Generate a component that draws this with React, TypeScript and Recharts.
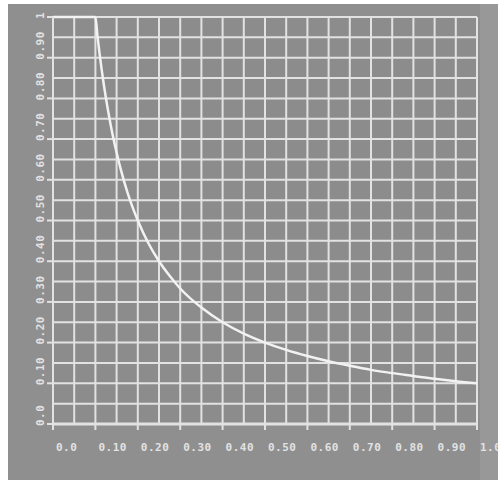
import React from "react";
import { LineChart, Line, XAxis, YAxis, CartesianGrid } from "recharts";

// Curve values
const xValues = [0, 0.05, 0.1, 0.105, 0.11, 0.12, 0.13, 0.14, 0.15, 0.16, 0.175, 0.19, 0.2, 0.225, 0.25, 0.275, 0.3, 0.35, 0.4, 0.45, 0.5, 0.55, 0.6, 0.65, 0.7, 0.75, 0.8, 0.85, 0.9, 0.95, 1.0];
const yValues = [1, 1, 1, 0.952, 0.909, 0.833, 0.769, 0.714, 0.667, 0.625, 0.571, 0.526, 0.5, 0.444, 0.4, 0.364, 0.333, 0.286, 0.25, 0.222, 0.2, 0.182, 0.167, 0.154, 0.143, 0.133, 0.125, 0.118, 0.111, 0.105, 0.1];

// Grid ticks every 0.05, labels every 0.1
const gridTicks = [0, 0.05, 0.1, 0.15, 0.2, 0.25, 0.3, 0.35, 0.4, 0.45, 0.5, 0.55, 0.6, 0.65, 0.7, 0.75, 0.8, 0.85, 0.9, 0.95, 1.0];
const xTickLabels = ["0.0", "0.10", "0.20", "0.30", "0.40", "0.50", "0.60", "0.70", "0.80", "0.90", "1.0"];
const yTickLabels = ["0.0", "0.10", "0.20", "0.30", "0.40", "0.50", "0.60", "0.70", "0.80", "0.90", "1"];

const data = xValues.map((x, i) => ({ x, y: yValues[i] }));

const FG = "#e2e2e2";
const FONT = "'DejaVu Sans Mono', monospace";

const labelIndex = (v: number) => {
  const k = Math.round(v * 100);
  return k % 10 === 0 ? k / 10 : -1;
};

const XTick = (props: any) => {
  const { x, y, payload } = props;
  const idx = labelIndex(payload.value);
  if (idx < 0) return null;
  return (
    <g>
      <line x1={x} y1={y} x2={x} y2={y + 6} stroke={FG} strokeWidth={2} />
      <text x={x + 3} y={y + 27} fill={FG} fontSize={11} fontWeight="bold" fontFamily={FONT} letterSpacing={0.5} textAnchor="start">
        {xTickLabels[idx]}
      </text>
    </g>
  );
};

const YTick = (props: any) => {
  const { x, y, payload } = props;
  const idx = labelIndex(payload.value);
  if (idx < 0) return null;
  const tx = x - 9;
  const ty = y + 2;
  return (
    <g>
      <line x1={x - 6} y1={y} x2={x} y2={y} stroke={FG} strokeWidth={2} />
      <text x={tx} y={ty} transform={`rotate(-90 ${tx} ${ty})`} fill={FG} fontSize={11} fontWeight="bold" fontFamily={FONT} letterSpacing={0.5} textAnchor="start">
        {yTickLabels[idx]}
      </text>
    </g>
  );
};

export default function App() {
  return (
    <div style={{ position: "absolute", left: 0, top: 0, width: 498, height: 480, background: "#ffffff", overflow: "hidden" }}>
      <div style={{ position: "absolute", left: 8, top: 4, width: 490, height: 476, background: "#8f8f8f" }} />
      <div style={{ position: "absolute", left: 480, top: 4, width: 18, height: 476, background: "#989898" }} />
      <div style={{ position: "absolute", left: 0, top: 0 }}>
        <LineChart width={498} height={480} data={data} margin={{ top: 17, right: 21, bottom: 0, left: 0 }}>
          <CartesianGrid stroke={FG} strokeWidth={2} fill="#8c8c8c" />
          <XAxis
            dataKey="x"
            type="number"
            domain={[0, 1]}
            ticks={gridTicks}
            interval={0}
            height={56}
            tickSize={0}
            tickMargin={0}
            tickLine={false}
            axisLine={{ stroke: FG, strokeWidth: 3 }}
            tick={<XTick />}
          />
          <YAxis
            type="number"
            domain={[0, 1]}
            ticks={gridTicks}
            interval={0}
            width={53}
            tickSize={0}
            tickMargin={0}
            tickLine={false}
            axisLine={{ stroke: FG, strokeWidth: 2 }}
            tick={<YTick />}
          />
          <Line
            type="monotone"
            dataKey="y"
            stroke="#f2f2f2"
            strokeWidth={2.5}
            dot={false}
            isAnimationActive={false}
          />
        </LineChart>
      </div>
    </div>
  );
}
